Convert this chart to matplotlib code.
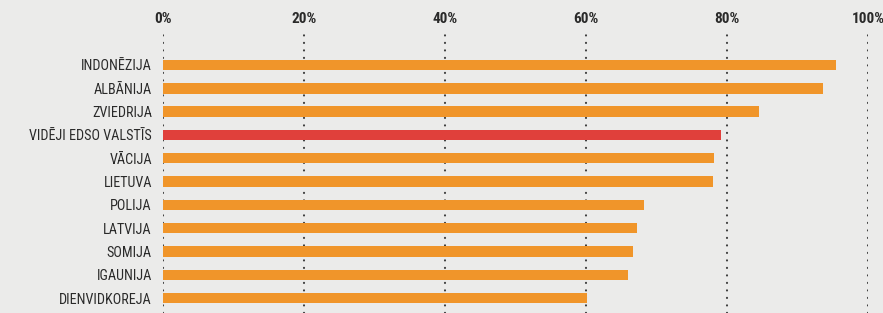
import numpy as np
import matplotlib
matplotlib.use('Agg')
import matplotlib.pyplot as plt

# dati
countries = ["INDONĒZIJA", "ALBĀNIJA", "ZVIEDRIJA", "VIDĒJI EDSO VALSTĪS", "VĀCIJA",
             "LIETUVA", "POLIJA", "LATVIJA", "SOMIJA", "IGAUNIJA", "DIENVIDKOREJA"]
values = [95.5, 93.6, 84.6, 79.1, 78.2, 78.0, 68.2, 67.2, 66.7, 66.0, 60.2]
highlight = "VIDĒJI EDSO VALSTĪS"
ticks = [0, 20, 40, 60, 80, 100]
tick_labels = ["0%", "20%", "40%", "60%", "80%", "100%"]

orange = "#f0952a"
red = "#e0403b"
bg = "#ebebea"
fam = ["Roboto Condensed", "Liberation Sans", "DejaVu Sans"]

fig = plt.figure(figsize=(8.83, 3.13), dpi=100)
fig.patch.set_facecolor(bg)
ax = fig.add_axes([163/883, 0, (868-163)/883, 1 - 30/313])
ax.set_facecolor(bg)

y = np.arange(len(countries))
colors = [red if c == highlight else orange for c in countries]
ax.barh(y, values, height=0.45, color=colors, zorder=2)

# punktētās līnijas
for t in ticks:
    ax.axvline(t, color="#3a3a3a", lw=1.5, linestyle=(0, (0.1, 3.5)),
               dash_capstyle="round", zorder=1)

ax.set_xlim(0, 100)
ax.set_ylim(10.64, -1.5)
ax.set_xticks([])
ax.set_yticks(y)
ax.set_yticklabels(countries, family=fam, fontsize=10.2, color="#2a2a2a")
ax.tick_params(axis="y", length=0, pad=8)
for s in ax.spines.values():
    s.set_visible(False)

for t, lab in zip(ticks, tick_labels):
    ax.text(t, 1.0 + 11/283, lab, transform=ax.get_xaxis_transform(),
            ha="center", va="center", family=fam, fontweight="bold",
            fontsize=11, color="#2a2a2a", clip_on=False)

fig.savefig("out.png", dpi=100, facecolor=bg)
